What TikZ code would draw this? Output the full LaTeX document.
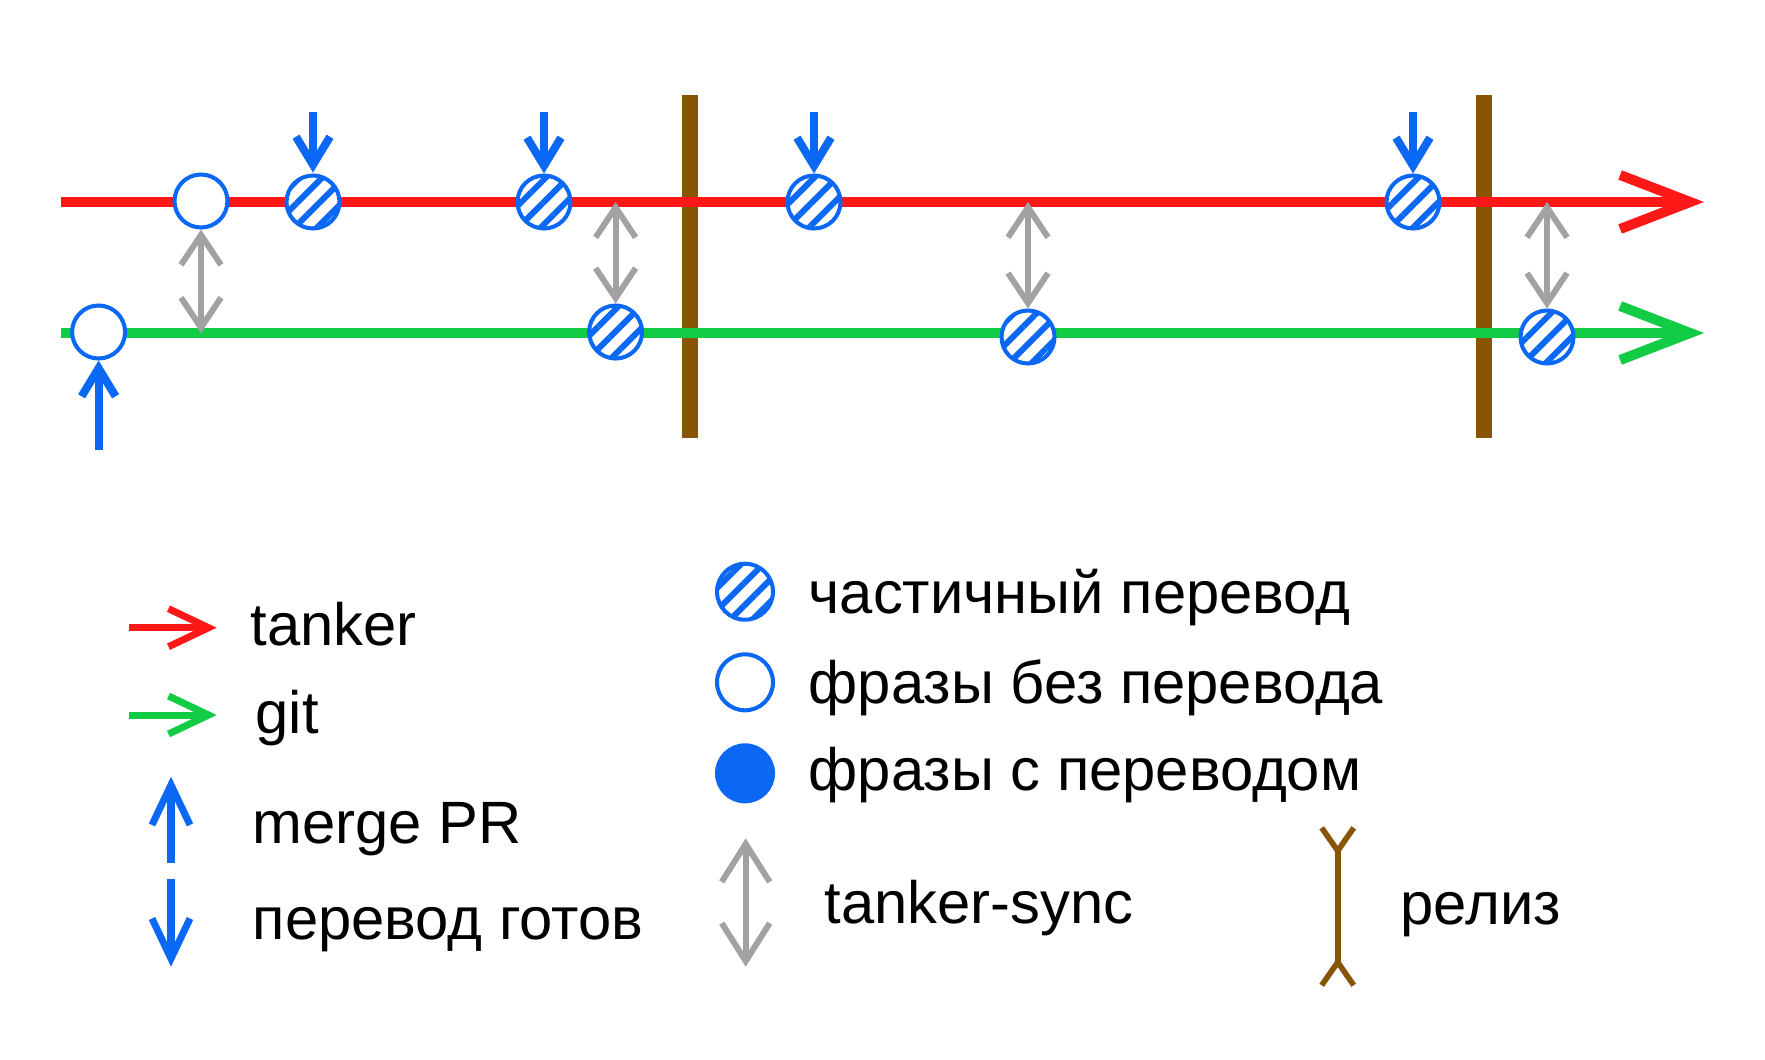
\documentclass[tikz,border=0pt]{standalone}
\usepackage{fontspec}
\setmainfont{Liberation Sans}
\usetikzlibrary{arrows.meta,patterns.meta}
\definecolor{tankerred}{RGB}{255,24,24}
\definecolor{gitgreen}{RGB}{18,204,70}
\definecolor{phraseblue}{RGB}{10,104,245}
\definecolor{syncgray}{RGB}{162,162,164}
\definecolor{releasebrown}{RGB}{135,85,5}
\tikzset{%
  phrase/.style   = {circle, draw=phraseblue, line width=1.15pt,%
                     inner sep=0pt, minimum size=5.3mm},%
  untrans/.style  = {phrase, fill=white},%
  partial/.style  = {phrase, preaction={fill=white},%
                     pattern={Lines[angle=45,distance=4.5pt,line width=1.7pt]},%
                     pattern color=phraseblue},%
  trans/.style    = {phrase, fill=phraseblue},%
  tanker/.style   = {draw=tankerred, line width=2.85pt,%
                     -{Straight Barb[length=7mm,width=5.4mm]}},%
  git/.style      = {tanker, draw=gitgreen},%
  ready/.style    = {draw=phraseblue, line width=2.3pt,%
                     -{Straight Barb[length=2.8mm,width=3.4mm]}},%
  sync/.style     = {draw=syncgray, line width=1.7pt,%
                     {Straight Barb[length=3mm,width=4mm]}-{Straight Barb[length=3mm,width=4mm]}},%
  release/.style  = {draw=releasebrown, line width=4.55pt},%
  legend/.style   = {anchor=base west, inner sep=0pt,%
                     font=\fontsize{17pt}{20pt}\selectfont}%
}

\begin{document}
\begin{tikzpicture}
	\useasboundingbox (0,0) rectangle (17.65,-10.59);
	\coordinate (tstart) at (0.61,-2.02);
	\coordinate (tend)   at (17.04,-2.02);
	\coordinate (gstart) at (0.61,-3.33);
	\coordinate (gend)   at (17.04,-3.33);
	\coordinate (readytop) at (0,-1.12);
	\coordinate (prfoot)   at (0.986,-4.50);
	% releases
	\foreach \x [count=\i] in {6.90,14.84}{
		\coordinate (rel\i a) at (\x,-0.95);
		\coordinate (rel\i b) at (\x,-4.38);
		\draw[release] (rel\i a) -- (rel\i b);
	}
	\draw[tanker] (tstart) -- (tend);
	\draw[git] (gstart) -- (gend);
	\node[untrans] (tnew) at (2.01,-2.01) {};
	\foreach \x [count=\i] in {3.13,5.44,8.14,14.13}
		\node[partial] (t\i) at (\x,-2.02) {};
	\node[untrans] (gnew) at (0.986,-3.32) {};
	\node[partial] (g1) at (6.156,-3.32) {};
	\node[partial] (g2) at (10.28,-3.37) {};
	\node[partial] (g3) at (15.47,-3.37) {};
	\foreach \i in {1,...,4}
		\draw[ready] (t\i.north |- readytop) -- (t\i.north);
	\draw[ready] (prfoot) -- (gnew.south);
	\draw[sync] (tnew.south) -- (tnew.south |- gstart);
	\foreach \i in {1,2,3}
		\draw[sync] (g\i.north |- tstart) -- (g\i.north);
	% legend
	\node[legend] (ltanker) at (2.50,-6.45) {tanker};
	\node[legend] (lgit)    at (2.55,-7.33) {git};
	\node[legend] (lmerge)  at (2.52,-8.43) {merge PR};
	\node[legend] (lready)  at (2.52,-9.39) {перевод готов};
	\node[legend] (lpart)   at (8.08,-6.13) {частичный перевод};
	\node[legend] (luntr)   at (8.08,-7.03) {фразы без перевода};
	\node[legend] (ltr)     at (8.08,-7.90) {фразы с переводом};
	\node[legend] (lsync)   at (8.24,-9.23) {tanker-sync};
	\node[legend] (lrel)    at (14.00,-9.24) {релиз};
	\coordinate (lt1) at (1.29,-6.277);  \coordinate (lt2) at (2.167,-6.277);
	\coordinate (lg1) at (1.29,-7.15);   \coordinate (lg2) at (2.167,-7.15);
	\coordinate (lm1) at (1.71,-8.633);  \coordinate (lm2) at (1.71,-7.767);
	\coordinate (lr1) at (1.71,-8.79);   \coordinate (lr2) at (1.71,-9.667);
	\coordinate (ls1) at (7.457,-8.383); \coordinate (ls2) at (7.457,-9.667);
	\coordinate (lb1) at (13.377,-8.25); \coordinate (lb2) at (13.377,-9.88);
	\draw[tanker, line width=2pt, -{Straight Barb[length=4mm,width=3.8mm]}] (lt1) -- (lt2);
	\draw[git, line width=2pt, -{Straight Barb[length=4mm,width=3.8mm]}] (lg1) -- (lg2);
	\draw[ready, line width=2pt, -{Straight Barb[length=4mm,width=3.8mm]}] (lm1) -- (lm2);
	\draw[ready, line width=2pt, -{Straight Barb[length=4mm,width=3.8mm]}] (lr1) -- (lr2);
	\draw[sync, {Straight Barb[length=3.8mm,width=4.8mm]}-{Straight Barb[length=3.8mm,width=4.8mm]}] (ls1) -- (ls2);
	\draw[release, line width=1.6pt,%
		{Straight Barb[reversed,length=2.3mm,width=3.2mm]}-{Straight Barb[reversed,length=2.3mm,width=3.2mm]}] (lb1) -- (lb2);
	\node[partial, minimum size=5.6mm] (lpartc) at (7.45,-5.917) {};
	\node[untrans, minimum size=5.6mm] (luntrc) at (7.45,-6.823) {};
	\node[trans, minimum size=5.6mm]   (ltrc)   at (7.45,-7.733) {};
\end{tikzpicture}
\end{document}
